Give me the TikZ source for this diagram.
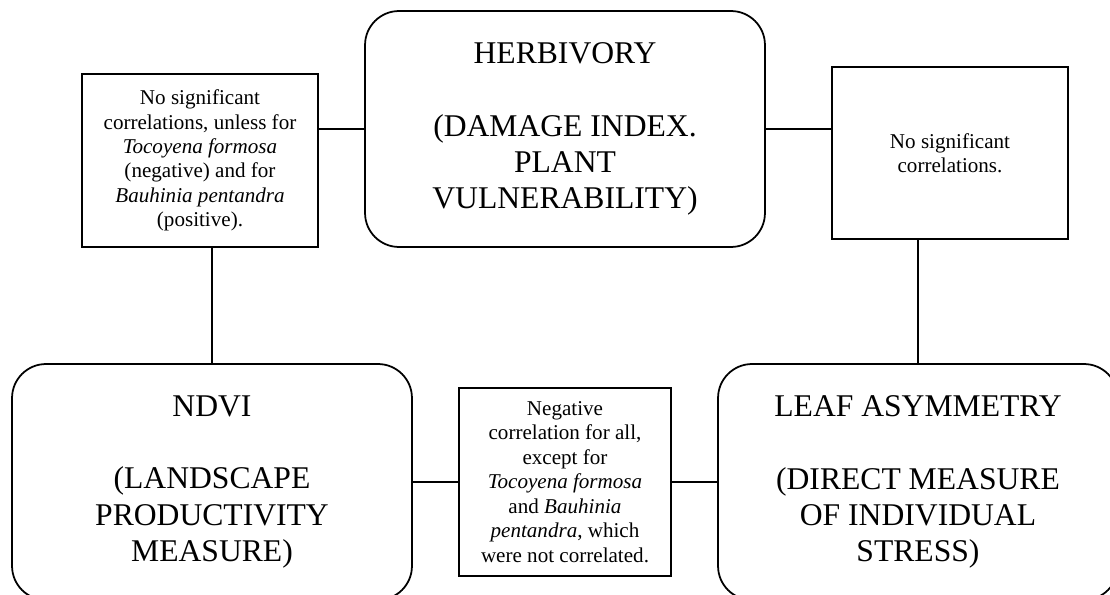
\documentclass[tikz,border=0pt]{standalone}
\usepackage{fontspec}
\setmainfont{Liberation Serif}
\tikzset{
  bigbox/.style={draw, line width=1pt, rounded corners=0.68cm, inner sep=0pt,
    minimum width=8cm, minimum height=4.72cm, align=center,
    font=\fontsize{18}{20.7}\selectfont},
  notebox/.style={draw, line width=1pt, inner sep=0pt, align=center,
    font=\fontsize{12}{13.9}\selectfont},
}

\begin{document}
\begin{tikzpicture}[x=0.02cm, y=-0.02cm, line width=1pt]

\useasboundingbox (0,0) rectangle (1110,595);

\node[bigbox] (herbivory) at (565,129) {HERBIVORY\\ ~\\ (DAMAGE INDEX.\\ PLANT\\ VULNERABILITY)};
\node[bigbox] (ndvi) at (212,482) {NDVI\\ ~\\ (LANDSCAPE\\ PRODUCTIVITY\\ MEASURE)};
\node[bigbox] (leaf) at (918,482) {LEAF ASYMMETRY\\ ~\\ (DIRECT MEASURE\\ OF INDIVIDUAL\\ STRESS)};

\node[notebox, minimum width=4.72cm, minimum height=3.46cm] (noteleft) at (200,160.5)
  {No significant\\ correlations, unless for\\ \textit{Tocoyena formosa}\\ (negative) and for\\ \textit{Bauhinia pentandra}\\ (positive).};
\node[notebox, minimum width=4.72cm, minimum height=3.44cm] (noteright) at (950,153)
  {No significant\\ correlations.};
\node[notebox, minimum width=4.24cm, minimum height=3.76cm] (notemid) at (565,482)
  {Negative\\ correlation for all,\\ except for\\ \textit{Tocoyena formosa}\\ and \textit{Bauhinia}\\ \textit{pentandra}, which\\ were not correlated.};

\draw (herbivory.west) -- (herbivory.west -| noteleft.east);
\draw (herbivory.east) -- (herbivory.east -| noteright.west);
\draw (ndvi.north) -- (ndvi.north |- noteleft.south);
\draw (leaf.north) -- (leaf.north |- noteright.south);
\draw (ndvi.east) -- (notemid.west);
\draw (notemid.east) -- (leaf.west);

\end{tikzpicture}
\end{document}
